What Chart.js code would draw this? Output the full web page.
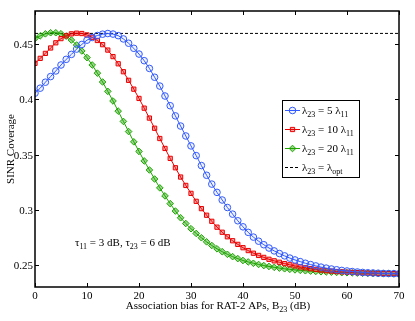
<!DOCTYPE html>
<html>
<head>
<meta charset="utf-8">
<script src="https://cdn.jsdelivr.net/npm/chart.js@4/dist/chart.umd.min.js"></script>
<style>
  html, body { margin: 0; padding: 0; background: #fff; }
  canvas { display: block; }
</style>
</head>
<body>
<canvas id="chart" width="415" height="321"></canvas>
<script>
// association bias B23 in dB
const biasDb = [0, 1, 2, 3, 4, 5, 6, 7, 8, 9, 10, 11, 12, 13, 14, 15, 16, 17, 18, 19,
    20, 21, 22, 23, 24, 25, 26, 27, 28, 29, 30, 31, 32, 33, 34, 35, 36, 37, 38, 39,
    40, 41, 42, 43, 44, 45, 46, 47, 48, 49, 50, 51, 52, 53, 54, 55, 56, 57, 58, 59,
    60, 61, 62, 63, 64, 65, 66, 67, 68, 69, 70];

const coverage5 = [0.4056, 0.4101, 0.4155, 0.4206, 0.4257, 0.4311, 0.4362, 0.4407, 0.4455, 0.4497,
    0.4536, 0.4560, 0.4578, 0.4590, 0.4596, 0.4591, 0.4577, 0.4547, 0.4508, 0.4462,
    0.4410, 0.4350, 0.4280, 0.4200, 0.4120, 0.4030, 0.3942, 0.3850, 0.3758, 0.3668,
    0.3578, 0.3490, 0.3400, 0.3312, 0.3232, 0.3157, 0.3088, 0.3020, 0.2960, 0.2900,
    0.2845, 0.2795, 0.2752, 0.2715, 0.2683, 0.2653, 0.2627, 0.2603, 0.2582, 0.2562,
    0.2545, 0.2530, 0.2515, 0.2503, 0.2491, 0.2480, 0.2471, 0.2463, 0.2456, 0.2450,
    0.2445, 0.2440, 0.2436, 0.2432, 0.2429, 0.2427, 0.2425, 0.2423, 0.2422, 0.2421, 0.2420];

const coverage10 = [0.4326, 0.4371, 0.4416, 0.4465, 0.4512, 0.4550, 0.4575, 0.4593, 0.4599, 0.4596,
    0.4583, 0.4562, 0.4533, 0.4495, 0.4446, 0.4387, 0.4322, 0.4250, 0.4172, 0.4092,
    0.4008, 0.3920, 0.3830, 0.3738, 0.3645, 0.3555, 0.3465, 0.3380, 0.3296, 0.3220,
    0.3148, 0.3076, 0.3010, 0.2950, 0.2895, 0.2842, 0.2796, 0.2755, 0.2719, 0.2686,
    0.2656, 0.2630, 0.2606, 0.2586, 0.2568, 0.2551, 0.2537, 0.2524, 0.2512, 0.2501,
    0.2491, 0.2482, 0.2474, 0.2466, 0.2459, 0.2453, 0.2448, 0.2444, 0.2440, 0.2437,
    0.2434, 0.2432, 0.2430, 0.2428, 0.2426, 0.2425, 0.2424, 0.2423, 0.2422, 0.2421, 0.2420];

const coverage20 = [0.4551, 0.4575, 0.4593, 0.4603, 0.4603, 0.4594, 0.4572, 0.4537, 0.4492, 0.4438,
    0.4378, 0.4311, 0.4237, 0.4157, 0.4072, 0.3985, 0.3893, 0.3800, 0.3708, 0.3615,
    0.3528, 0.3442, 0.3360, 0.3278, 0.3198, 0.3125, 0.3055, 0.2988, 0.2927, 0.2875,
    0.2828, 0.2785, 0.2746, 0.2709, 0.2676, 0.2646, 0.2620, 0.2596, 0.2575, 0.2557,
    0.2540, 0.2527, 0.2515, 0.2504, 0.2494, 0.2486, 0.2478, 0.2471, 0.2465, 0.2460,
    0.2455, 0.2451, 0.2447, 0.2444, 0.2441, 0.2438, 0.2436, 0.2434, 0.2432, 0.2430,
    0.2429, 0.2428, 0.2426, 0.2425, 0.2424, 0.2423, 0.2422, 0.2421, 0.2421, 0.2420, 0.2420];

const coverageOpt = 0.4597;
const optRange = [0, 70];

const xTicks = [0, 10, 20, 30, 40, 50, 60, 70];
const yTicks = [0.25, 0.3, 0.35, 0.4, 0.45];
const yTickLabels = ['0.25', '0.3', '0.35', '0.4', '0.45'];

// "_{..}" marks a subscript
const seriesLabels = ['λ_{23} = 5 λ_{11}', 'λ_{23} = 10 λ_{11}', 'λ_{23} = 20 λ_{11}', 'λ_{23} = λ_{opt}'];
const xTitle = 'Association bias for RAT-2 APs, B_{23} (dB)';
const yTitle = 'SINR Coverage';
const noteText = 'τ_{11} = 3 dB, τ_{23} = 6 dB';

const FONT = '"Liberation Serif", "DejaVu Serif", serif';

function toPoints(xs, ys) {
    return xs.map((x, i) => ({ x: x, y: ys[i] }));
}

function richParts(str) {
    const parts = [];
    const re = /_\{([^}]*)\}/g;
    let last = 0, m;
    while ((m = re.exec(str)) !== null) {
        if (m.index > last) parts.push({ t: str.slice(last, m.index), sub: false });
        parts.push({ t: m[1], sub: true });
        last = re.lastIndex;
    }
    if (last < str.length) parts.push({ t: str.slice(last), sub: false });
    return parts;
}

function drawRich(ctx, str, x, y, align, size) {
    const parts = richParts(str);
    const mainFont = size + 'px ' + FONT;
    const subFont = Math.round(size * 0.75) + 'px ' + FONT;
    let w = 0;
    parts.forEach(p => {
        ctx.font = p.sub ? subFont : mainFont;
        p.w = ctx.measureText(p.t).width;
        w += p.w;
    });
    let cx = align === 'center' ? x - w / 2 : (align === 'right' ? x - w : x);
    ctx.textAlign = 'left';
    ctx.textBaseline = 'alphabetic';
    parts.forEach(p => {
        ctx.font = p.sub ? subFont : mainFont;
        ctx.fillText(p.t, cx, p.sub ? y + 3 : y);
        cx += p.w;
    });
}

const framePlugin = {
    id: 'frame',
    afterDraw(chart) {
        const ctx = chart.ctx;
        const a = chart.chartArea;
        const xs = chart.scales.x, ys = chart.scales.y;
        ctx.save();
        ctx.strokeStyle = '#000';
        ctx.fillStyle = '#000';

        // inward ticks on all sides
        ctx.lineWidth = 1;
        ctx.beginPath();
        xTicks.forEach(v => {
            const px = Math.round(xs.getPixelForValue(v)) + 0.5;
            ctx.moveTo(px, a.bottom); ctx.lineTo(px, a.bottom - 4);
            ctx.moveTo(px, a.top); ctx.lineTo(px, a.top + 4);
        });
        yTicks.forEach(v => {
            const py = Math.round(ys.getPixelForValue(v)) + 0.5;
            ctx.moveTo(a.left, py); ctx.lineTo(a.left + 4, py);
            ctx.moveTo(a.right, py); ctx.lineTo(a.right - 4, py);
        });
        ctx.stroke();

        // box
        ctx.lineWidth = 1.5;
        ctx.strokeRect(a.left, a.top, a.right - a.left, a.bottom - a.top);

        // tick labels
        ctx.font = '11px ' + FONT;
        ctx.textBaseline = 'alphabetic';
        ctx.textAlign = 'center';
        xTicks.forEach(v => {
            ctx.fillText(String(v), xs.getPixelForValue(v), a.bottom + 12);
        });
        ctx.textAlign = 'right';
        yTicks.forEach((v, i) => {
            ctx.fillText(yTickLabels[i], a.left - 2, ys.getPixelForValue(v) + 4);
        });

        // axis titles
        drawRich(ctx, xTitle, (a.left + a.right) / 2 + 1, 309, 'center', 11);
        ctx.save();
        ctx.translate(14, (a.top + a.bottom) / 2);
        ctx.rotate(-Math.PI / 2);
        drawRich(ctx, yTitle, 0, 0, 'center', 11);
        ctx.restore();

        // annotation
        drawRich(ctx, noteText, 75, 246, 'left', 11);

        // legend
        const lx = 282, ly = 100, lw = 77, lh = 77;
        ctx.fillStyle = '#fff';
        ctx.fillRect(lx, ly, lw, lh);
        ctx.lineWidth = 1;
        ctx.strokeStyle = '#000';
        ctx.strokeRect(lx + 0.5, ly + 0.5, lw, lh);
        chart.data.datasets.forEach((ds, i) => {
            const ry = ly + 10 + i * 19;
            ctx.save();
            ctx.strokeStyle = ds.borderColor;
            ctx.lineWidth = 1;
            ctx.setLineDash(ds.borderDash || []);
            ctx.beginPath();
            ctx.moveTo(lx + 3, ry + 0.5);
            ctx.lineTo(lx + 18, ry + 0.5);
            ctx.stroke();
            ctx.setLineDash([]);
            if (ds.pointRadius > 0) {
                ctx.fillStyle = ds.pointBackgroundColor;
                ctx.strokeStyle = ds.pointBorderColor;
                Chart.helpers.drawPoint(ctx, {
                    pointStyle: ds.pointStyle,
                    radius: ds.pointRadius,
                    rotation: 0,
                    borderWidth: 1
                }, lx + 10.5, ry + 0.5);
            }
            ctx.restore();
            ctx.fillStyle = '#000';
            drawRich(ctx, ds.label, lx + 20, ry + 4, 'left', 11);
        });
        ctx.restore();
    }
};

const ctx = document.getElementById('chart').getContext('2d');

const seriesColors = ['rgb(50,90,255)', 'rgb(235,0,0)', 'rgb(30,165,0)'];
const seriesFills = ['rgba(50,90,255,0.08)', 'rgba(235,0,0,0.35)', 'rgba(30,165,0,0.45)'];
const seriesPoints = ['circle', 'rect', 'rectRot'];
const seriesRadius = [3.3, 3, 3.3];
const seriesData = [coverage5, coverage10, coverage20];

const datasets = seriesData.map((vals, i) => ({
    label: seriesLabels[i],
    data: toPoints(biasDb, vals),
    borderColor: seriesColors[i],
    backgroundColor: seriesFills[i],
    pointBackgroundColor: seriesFills[i],
    pointBorderColor: seriesColors[i],
    pointStyle: seriesPoints[i],
    pointRadius: seriesRadius[i],
    pointBorderWidth: 1,
    borderWidth: 1,
    tension: 0
}));

datasets.push({
    label: seriesLabels[3],
    data: toPoints(optRange, [coverageOpt, coverageOpt]),
    borderColor: '#000',
    borderDash: [3, 2],
    borderWidth: 1,
    pointRadius: 0,
    tension: 0
});

new Chart(ctx, {
    type: 'line',
    data: { datasets: datasets },
    options: {
        responsive: false,
        animation: false,
        devicePixelRatio: 1,
        layout: { padding: { top: 11, right: 16, left: 0, bottom: 0 } },
        scales: {
            x: {
                type: 'linear',
                min: 0,
                max: 70,
                afterFit: scale => { scale.height = 34; },
                ticks: { display: false },
                grid: { display: false },
                border: { display: false }
            },
            y: {
                min: 0.23,
                max: 0.48,
                afterFit: scale => { scale.width = 35; },
                ticks: { display: false },
                grid: { display: false },
                border: { display: false }
            }
        },
        plugins: {
            legend: { display: false },
            tooltip: { enabled: false }
        }
    },
    plugins: [framePlugin]
});
</script>
</body>
</html>
